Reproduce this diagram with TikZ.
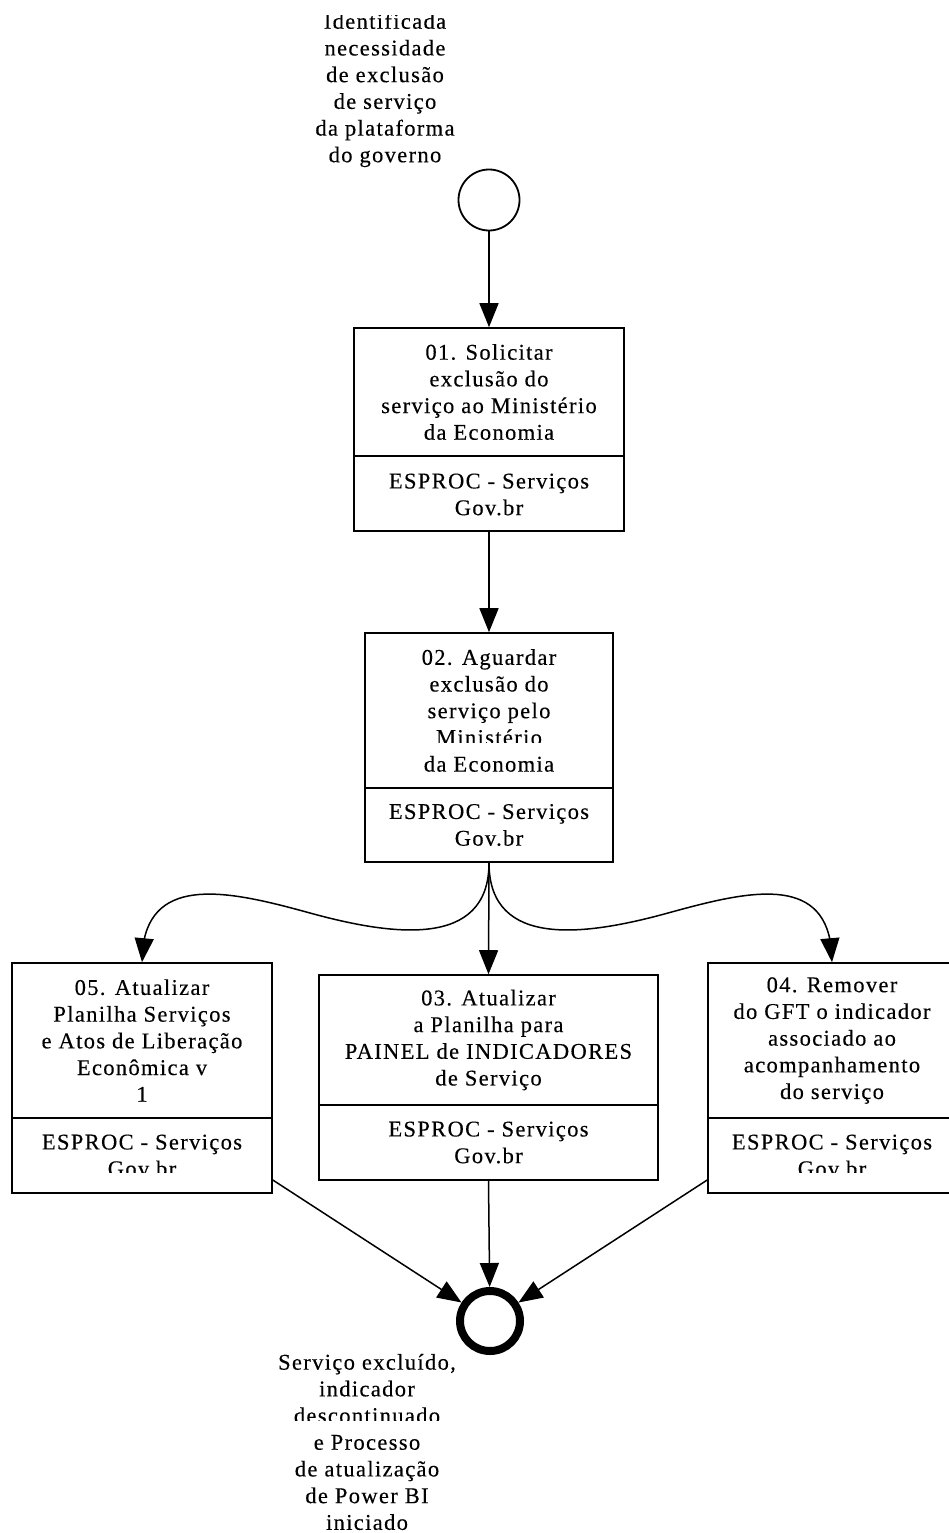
\documentclass[tikz,border=0pt]{standalone}
\usepackage{fontspec}
\setmainfont{Liberation Serif}[LetterSpace=6,FakeBold=0.3]
\usetikzlibrary{arrows.meta,bending}
\begin{document}
\begin{tikzpicture}[x=1pt,y=-1pt,
  lbl/.style={inner sep=0pt, align=center, font=\fontsize{22.5}{26.7}\selectfont},
  taskbox/.style={draw, line width=1.6pt, inner sep=0pt},
  divider/.style={line width=1.6pt},
  flow/.style={line width=1.5pt, -{Triangle[length=24pt,width=19pt]}},
  blank/.style={fill=white},
]
\useasboundingbox[fill=white] (0,0) rectangle (948,1533);

% start event
\node[circle, draw, line width=1.8pt, minimum size=61pt, inner sep=0pt] (s) at (489,200) {};
\node[lbl] (sl) at (385,90) {Identificada\\necessidade\\de exclusão\\de serviço\\da plataforma\\do governo};
\fill[blank] (300,0) rectangle (470,15);

% task 01
\node[taskbox, minimum width=270pt, minimum height=203pt] (t1) at (489,429.5) {};
\draw[divider] (t1.west |- 0,456) -- (t1.east |- 0,456);
\node[lbl] (t1a) at (489,392) {01. Solicitar\\exclusão do\\serviço ao Ministério\\da Economia};
\node[lbl] (t1b) at (489,494.5) {ESPROC - Serviços\\Gov.br};

% task 02
\node[taskbox, minimum width=248pt, minimum height=229pt] (t2) at (489,747.5) {};
\draw[divider] (t2.west |- 0,788) -- (t2.east |- 0,788);
\node[lbl] (t2a) at (489,710.5) {02. Aguardar\\exclusão do\\serviço pelo\\Ministério\\da Economia};
\node[lbl] (t2b) at (489,825) {ESPROC - Serviços\\Gov.br};
\fill[blank] (400,743) rectangle (580,748);

% task 05
\node[taskbox, minimum width=260pt, minimum height=230pt] (t5) at (142,1078) {};
\draw[divider] (t5.west |- 0,1118) -- (t5.east |- 0,1118);
\node[lbl] (t5a) at (142,1040.5) {05. Atualizar\\Planilha Serviços\\e Atos de Liberação\\Econômica v\\1};
\begin{scope}
\clip (12,1118) rectangle (272,1172);
\node[lbl] (t5b) at (142,1155.5) {ESPROC - Serviços\\Gov.br};
\end{scope}

% task 03
\node[taskbox, minimum width=339pt, minimum height=205pt] (t3) at (488.5,1077.5) {};
\draw[divider] (t3.west |- 0,1105) -- (t3.east |- 0,1105);
\node[lbl] (t3a) at (488.5,1040) {03. Atualizar\\a Planilha para\\PAINEL de INDICADORES\\de Serviço};
\node[lbl] (t3b) at (488.5,1142.5) {ESPROC - Serviços\\Gov.br};

% task 04
\node[taskbox, minimum width=248pt, minimum height=230pt] (t4) at (832,1078) {};
\draw[divider] (t4.west |- 0,1118) -- (t4.east |- 0,1118);
\node[lbl] (t4a) at (832,1040.5) {04. Remover\\do GFT o indicador\\associado ao\\acompanhamento\\do serviço};
\begin{scope}
\clip (708,1118) rectangle (956,1172);
\node[lbl] (t4b) at (832,1155.5) {ESPROC - Serviços\\Gov.br};
\end{scope}

% end event
\node[circle, draw, line width=8pt, minimum size=60pt, inner sep=0pt] (e) at (490,1321) {};
\node[lbl] (el) at (367,1442) {Serviço excluído,\\indicador\\descontinuado\\e Processo\\de atualização\\de Power BI\\iniciado};
\fill[blank] (270,1420.5) rectangle (465,1425.5);

% connectors
\draw[flow] (s) -- (t1);
\draw[flow] (t1) -- (t2);
\draw[flow] (t2.south) -- (t3.north);
\draw[flow] (t2.south) .. controls (489,950) and (390,935) .. (310,913)
  .. controls (230,891) and (142,870) .. (t5.north);
\draw[flow] (t2.south) .. controls (489,950) and (588,935) .. (668,913)
  .. controls (748,891) and (832,870) .. (t4.north);
\draw[flow] (t5.east |- 0,1180) -- (e);
\draw[flow] (t3.south) -- (e);
\draw[flow] (t4.west |- 0,1180) -- (e);
\end{tikzpicture}
\end{document}
